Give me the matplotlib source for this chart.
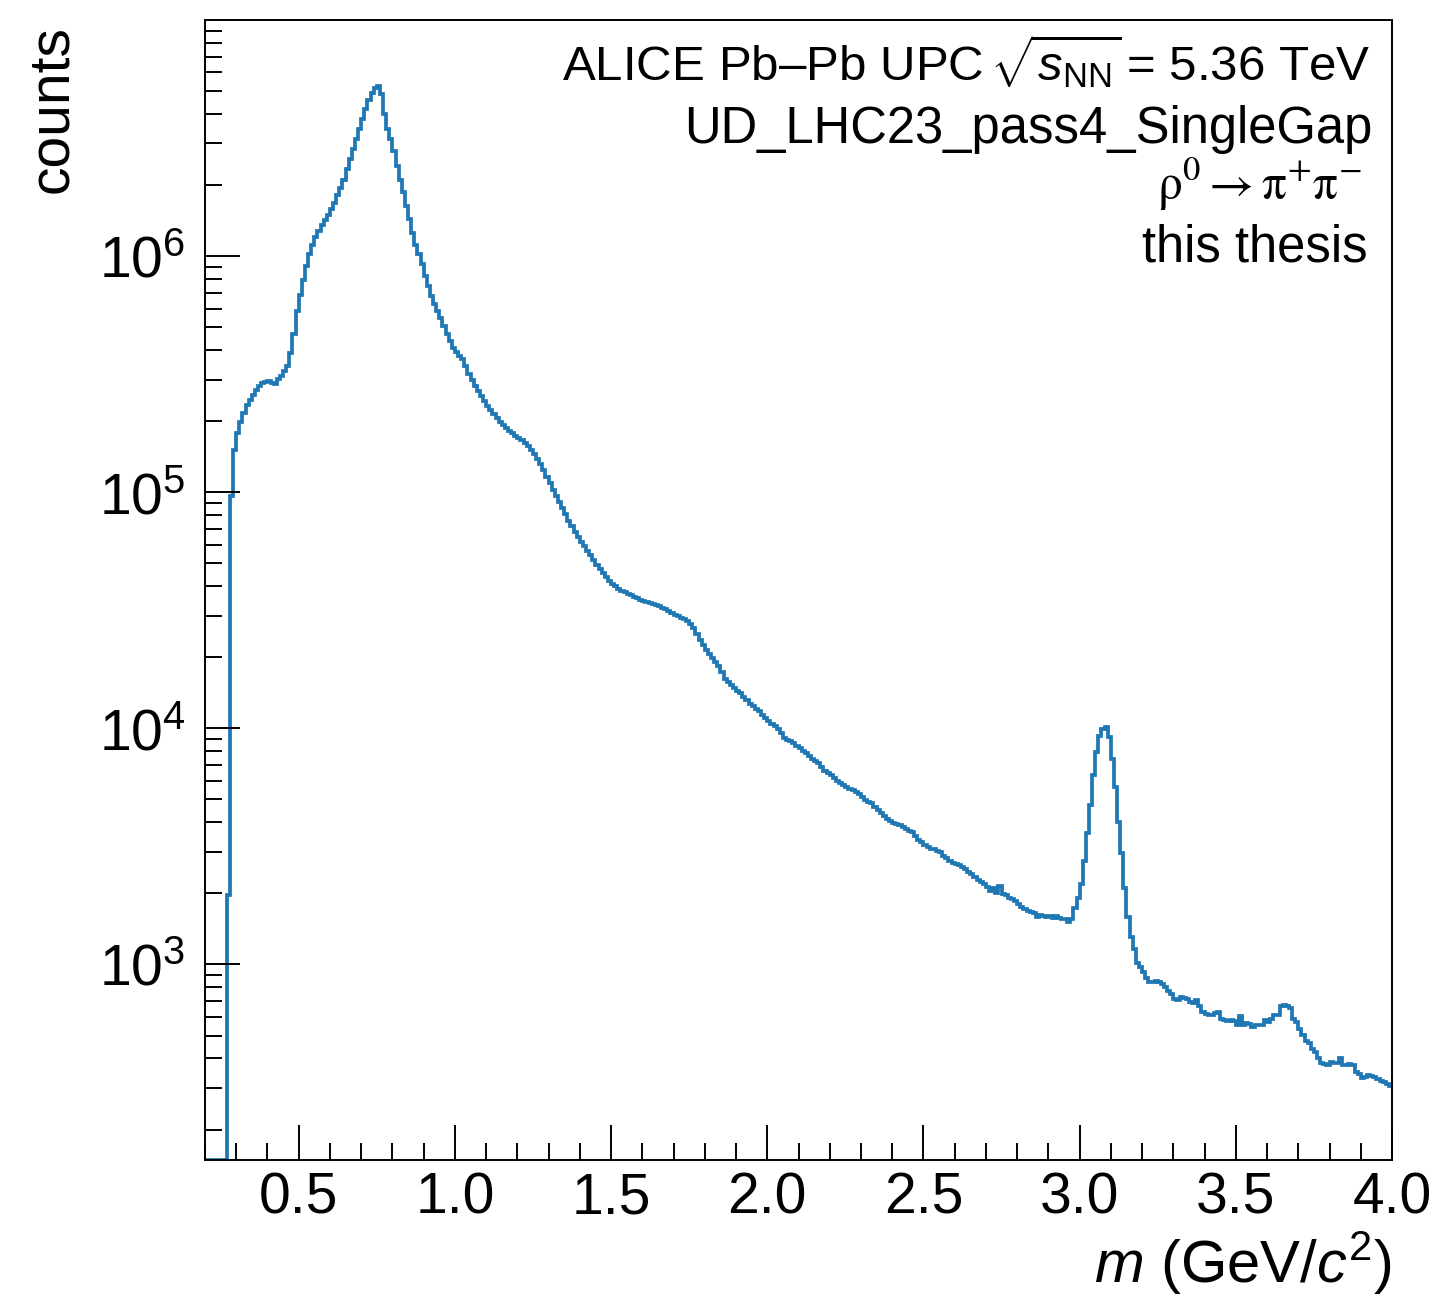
import numpy as np
import matplotlib
matplotlib.use("Agg")
import matplotlib.pyplot as plt
from matplotlib.ticker import FixedLocator, FixedFormatter, MultipleLocator, LogLocator, NullFormatter

plt.rcParams['font.family'] = ['Liberation Sans', 'DejaVu Sans']
plt.rcParams['mathtext.fontset'] = 'custom'
plt.rcParams['mathtext.rm'] = 'Liberation Sans'
plt.rcParams['mathtext.it'] = 'Liberation Sans:italic'
plt.rcParams['mathtext.bf'] = 'Liberation Sans:bold'

# ---------------- data ----------------
mass_min, mass_max = 0.2, 4.0   # GeV/c^2, bin width 0.01

counts_0p20_1p00 = [
    0, 0, 0, 0, 0, 0, 0, 1970, 96000, 151000,
    179000, 198000, 217000, 234000, 245000, 259000, 272000, 283000, 289000, 292000,
    295000, 291000, 288000, 302000, 312000, 326000, 344000, 390000, 469000, 585000,
    682000, 791000, 907000, 1017000, 1110000, 1200000, 1272000, 1349000, 1417000, 1495000,
    1580000, 1680000, 1810000, 1950000, 2110000, 2330000, 2570000, 2830000, 3120000, 3440000,
    3820000, 4210000, 4580000, 4920000, 5170000, 5250000, 4840000, 3980000, 3440000, 3120000,
    2790000, 2410000, 2110000, 1860000, 1630000, 1430000, 1256000, 1120000, 1017000, 922000,
    823000, 746000, 677000, 624000, 585000, 548000, 505000, 466000, 436000, 409000,
]
counts_1p00_1p80 = [
    390700, 375800, 365000, 341900, 316200, 298300, 282400, 267900, 254400, 243900,
    233000, 223500, 214100, 206700, 198800, 192300, 186800, 182600, 177800, 173400,
    170500, 166700, 161900, 156600, 151200, 145400, 138000, 131100, 123900, 116200,
    109200, 102600, 96500, 90700, 85500, 80500, 75900, 71800, 67700, 64700,
    61600, 59000, 56600, 54100, 51700, 49200, 47500, 45500, 43600, 42000,
    41000, 40050, 39100, 38300, 37800, 37200, 36700, 36100, 35600, 35100,
    34750, 34300, 33900, 33600, 33300, 32850, 32500, 32000, 31500, 30900,
    30300, 29900, 29400, 29000, 28500, 27800, 26700, 25200, 23760, 22630,
]
counts_1p80_2p60 = [
    21550, 20730, 19930, 19170, 18310, 17390, 16240, 15780, 15320, 14870,
    14440, 14160, 13620, 13230, 12730, 12400, 12120, 11810, 11430, 11100,
    10780, 10470, 10270, 9970, 9590, 9130, 8960, 8870, 8700, 8450,
    8260, 8050, 7870, 7660, 7440, 7300, 7140, 6880, 6620, 6490,
    6360, 6180, 6000, 5890, 5770, 5660, 5550, 5500, 5390, 5290,
    5135, 4990, 4890, 4830, 4660, 4520, 4390, 4240, 4140, 4040,
    3990, 3950, 3910, 3830, 3750, 3690, 3630, 3510, 3380, 3310,
    3220, 3150, 3090, 3080, 3030, 3000, 2890, 2830, 2750, 2700,
]
counts_2p60_3p40 = [
    2670, 2640, 2590, 2540, 2470, 2420, 2350, 2290, 2240, 2190,
    2135, 2050, 2110, 2010, 2140, 1990, 1960, 1920, 1890, 1860,
    1800, 1760, 1710, 1690, 1670, 1660, 1590, 1620, 1610, 1590,
    1610, 1580, 1610, 1580, 1560, 1555, 1520, 1560, 1740, 1920,
    2200, 2750, 3610, 4750, 6360, 7970, 9310, 9970, 10170, 9220,
    7440, 5660, 4020, 2970, 2110, 1590, 1310, 1166, 1017, 978,
    931, 878, 845, 845, 853, 839, 826, 804, 774, 749,
    714, 707, 725, 721, 714, 697, 686, 709, 669, 632,
]
counts_3p40_4p00 = [
    618, 612, 612, 626, 632, 590, 580, 576, 580, 576,
    555, 606, 555, 565, 561, 546, 555, 552, 555, 580,
    571, 590, 612, 612, 664, 675, 669, 654, 590, 571,
    532, 504, 476, 464, 438, 428, 401, 382, 380, 376,
    388, 382, 382, 401, 376, 376, 380, 376, 352, 344,
    330, 335, 341, 338, 335, 327, 321, 317, 311, 306,
]

x_tick_values = [0.5, 1.0, 1.5, 2.0, 2.5, 3.0, 3.5, 4.0]
x_tick_labels = ['0.5', '1.0', '1.5', '2.0', '2.5', '3.0', '3.5', '4.0']
y_tick_values = [1e3, 1e4, 1e5, 1e6]
y_tick_labels = [r'$10^{3}$', r'$10^{4}$', r'$10^{5}$', r'$10^{6}$']

counts = np.array(counts_0p20_1p00 + counts_1p00_1p80 + counts_1p80_2p60
                  + counts_2p60_3p40 + counts_3p40_4p00, dtype=float)
edges = np.linspace(mass_min, mass_max, len(counts) + 1)

y_lo, y_hi = 148.6, 1.0e7

# ---------------- figure ----------------
W, H = 1444, 1297
fig = plt.figure(figsize=(W / 100, H / 100), dpi=100)
ax = fig.add_axes([205 / W, 1 - 1160 / H, (1392 - 205) / W, (1160 - 20) / H])

ax.stairs(np.clip(counts, y_lo, None), edges, color='#1f77b4', lw=2.7, baseline=None)

ax.set_yscale('log')
ax.set_xlim(mass_min, mass_max)
ax.set_ylim(y_lo, y_hi)

ax.xaxis.set_major_locator(FixedLocator(x_tick_values))
ax.xaxis.set_major_formatter(FixedFormatter(x_tick_labels))
ax.xaxis.set_minor_locator(MultipleLocator(0.1))
ax.yaxis.set_major_locator(FixedLocator(y_tick_values))
ax.yaxis.set_major_formatter(FixedFormatter(y_tick_labels))
ax.yaxis.set_minor_locator(LogLocator(base=10, subs=np.arange(2, 10), numticks=30))
ax.yaxis.set_minor_formatter(NullFormatter())

ax.tick_params(which='both', direction='in', top=False, right=False, width=1.4, color='black')
ax.tick_params(which='major', length=25, labelsize=41)
ax.tick_params(which='minor', length=12.5)
ax.tick_params(axis='x', which='major', pad=8)
ax.tick_params(axis='y', which='major', pad=14)
for s in ax.spines.values():
    s.set_linewidth(1.4)
    s.set_color('black')

# texts
fs = 35.5
fig.text(1370 / W, 1 - 80 / H, r'ALICE Pb–Pb UPC$\,\sqrt{s_{\mathrm{NN}}}\,$= 5.36 TeV',
         ha='right', va='baseline', fontsize=fs)
fig.text(1372 / W, 1 - 143 / H, 'UD_LHC23_pass4_SingleGap',
         ha='right', va='baseline', fontsize=36.5)
fig.text(1362 / W, 1 - 200 / H, r'$\mathrm{\rho^{0} \rightarrow \pi^{+}\pi^{-}}$',
         ha='right', va='baseline', fontsize=fs, math_fontfamily='stix')
fig.text(1368 / W, 1 - 262 / H, 'this thesis',
         ha='right', va='baseline', fontsize=36.5)

fig.text(1392 / W, 1 - 1283 / H, r'$m$ (GeV/$c^{2}$)', ha='right', va='baseline', fontsize=43)
fig.text(52 / W, 1 - 25 / H, 'counts', rotation=90, ha='center', va='top', fontsize=41)

fig.savefig('out.png', dpi=100)
